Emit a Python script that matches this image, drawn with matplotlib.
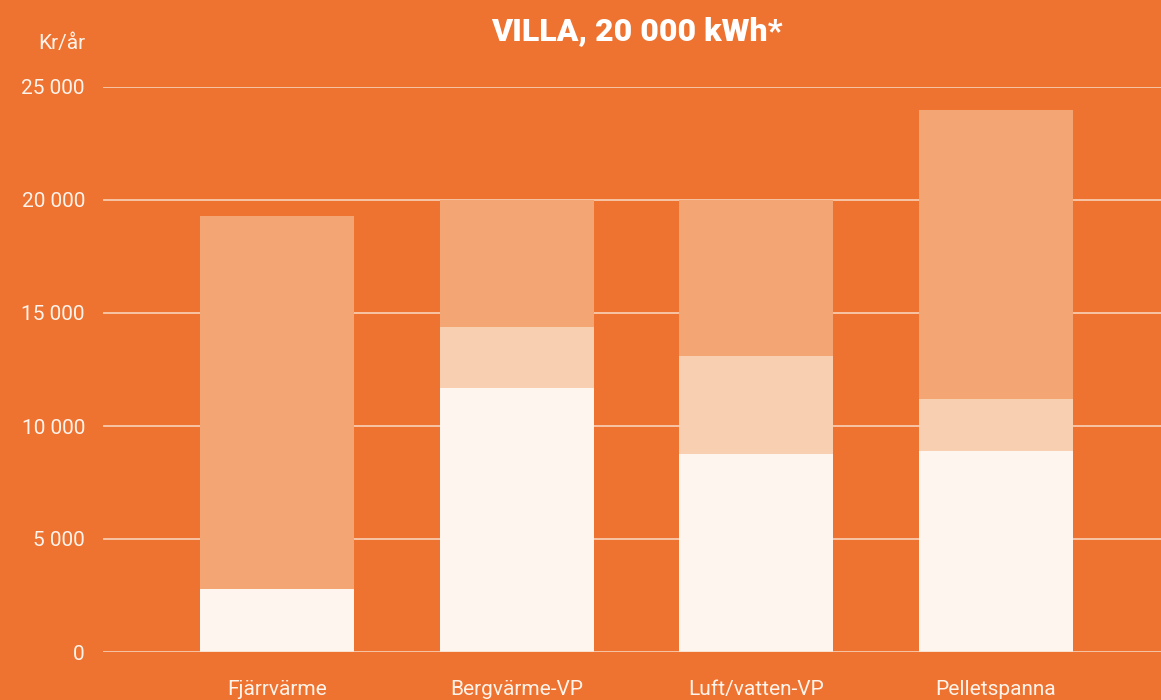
import matplotlib
matplotlib.use('Agg')
import matplotlib.pyplot as plt
import numpy as np

# Data (kr/år), stacked from bottom
categories = ["Fjärrvärme", "Bergvärme-VP", "Luft/vatten-VP", "Pelletspanna"]
part_bottom = [2800, 11700, 8750, 8900]
part_middle = [0, 2700, 4350, 2300]
part_top = [16500, 5600, 6900, 12800]
y_ticks = [0, 5000, 10000, 15000, 20000, 25000]
y_labels = ["0", "5 000", "10 000", "15 000", "20 000", "25 000"]

bg = "#EE7230"
col_bottom = "#FEF5EE"
col_middle = "#F8CFB0"
col_top = "#F3A673"
text_col = "#FFF4EC"
grid_col = "#FADBC5"

plt.rcParams['font.family'] = ['Roboto', 'DejaVu Sans']

fig = plt.figure(figsize=(11.61, 7.0), dpi=100, facecolor=bg)
ax = fig.add_axes([103 / 1161, 48 / 700, 1 - 103 / 1161, (652 - 87) / 700])
ax.set_facecolor(bg)

x = np.arange(len(categories))
w = 0.643
b1 = np.array(part_bottom)
b2 = b1 + np.array(part_middle)
ax.bar(x, part_bottom, width=w, color=col_bottom, zorder=2)
ax.bar(x, part_middle, width=w, bottom=b1, color=col_middle, zorder=2)
ax.bar(x, part_top, width=w, bottom=b2, color=col_top, zorder=2)

ax.set_ylim(0, 25000)
ax.set_xlim(-0.7265, 3.691)
ax.set_yticks(y_ticks)
ax.set_yticklabels(y_labels)
ax.set_xticks(x)
ax.set_xticklabels(categories)

for yv in y_ticks:
    ax.axhline(yv, color=grid_col, linewidth=1.1, zorder=1 if yv > 0 else 3)

for s in ax.spines.values():
    s.set_visible(False)
ax.tick_params(axis='y', length=0, pad=13, labelsize=15, labelcolor=text_col)
ax.tick_params(axis='x', length=0, pad=20, labelsize=15, labelcolor=text_col)

fig.text(85 / 1161, 1 - 43 / 700, "Kr/år", ha='right', va='center',
         fontsize=15, color=text_col)
fig.text(637 / 1161, 1 - 31 / 700, "VILLA, 20 000 kWh*", ha='center', va='center',
         fontsize=23, color="white", fontweight='black')

fig.savefig("out.png", dpi=100, facecolor=bg)
